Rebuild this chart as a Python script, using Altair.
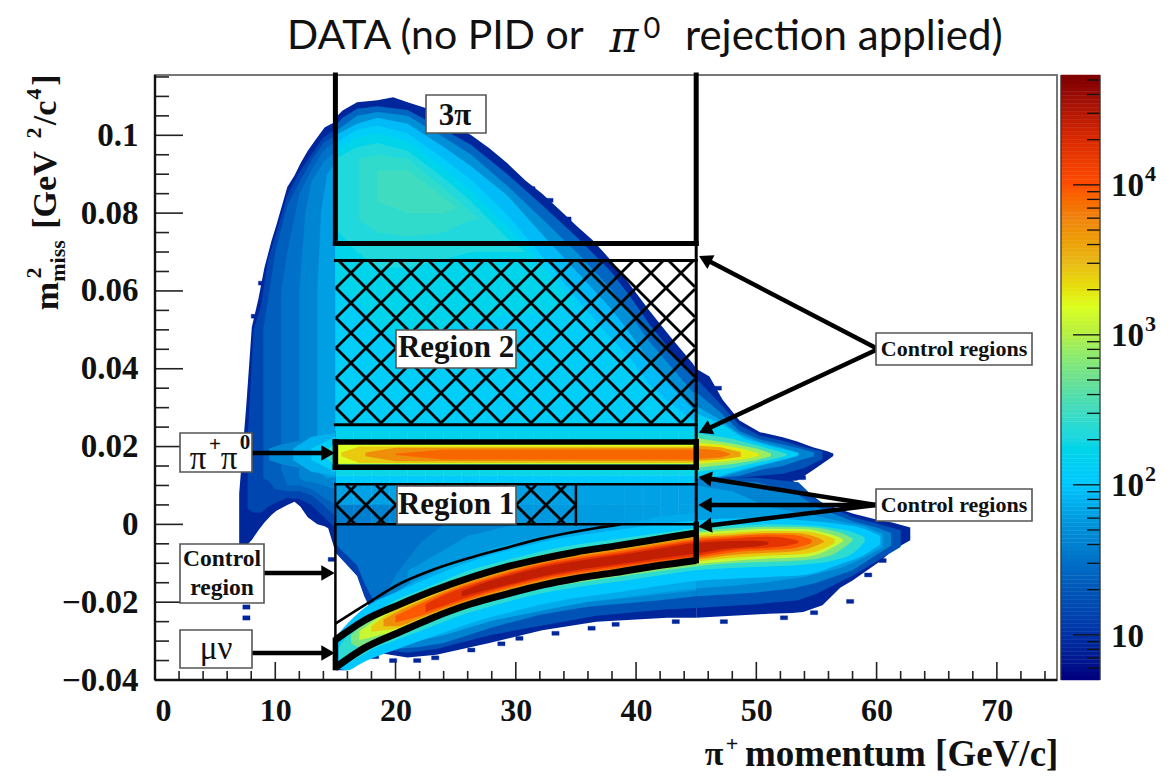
import altair as alt
import pandas as pd

W, H = 902, 605
OX, OY = 155, 75  # plot origin on the page

# ---------- 15-45 GeV horizontal slices: bin edges and counts ----------
MID_EDGES = [15 + 1.5 * i for i in range(21)]
SLICE_TOPS = [.024, .0215, .0205, .0155, .0145, .0125, .0103, .005]
SLICE_BOTTOM = 0
SLICE_FIXED = [150, 400, 1500, 400, 180, 110, 62, None]
LOW_STRIPE = [36,38,40,42,44,46,48,50,52,54,55,56,57,58,58,58,60,60,62,62]
SPECKS = [(7.3,7.9,-.0207,-.0218),(7.3,7.9,-.0235,-.0246),(21.5,22.1,-.0345,-.0355),(23,23.6,-.0338,-.0348),(26,26.6,-.0318,-.0328),
          (28.5,29.1,-.0302,-.0312),(30,30.6,-.0288,-.0298),(33,33.6,-.0275,-.0285),(36,36.6,-.0262,-.0272),(38,38.6,-.0252,-.0262),
          (43,43.6,-.0245,-.0255),(47,47.6,-.0245,-.0255),(52,52.6,-.0235,-.0245),(54.5,55.1,-.0222,-.0232),(57.5,58.1,-.0193,-.0203),
          (59,59.6,-.0125,-.0135),(60.2,60.8,-.0088,-.0098),(18,18.6,-.0335,-.0345),(19.5,20.1,-.0345,-.0355),
          (31,31.6,.0868,.0858),(32.5,33.1,.0838,.0828),(34,34.6,.079,.078),(8,8.6,.054,.053),(8.6,9.2,.0625,.0615),
          (12.5,13.1,.0055,.0045),(14.4,15,-.0085,-.0095),(46.5,47.1,.0355,.0345),(53.5,54.1,.0125,.0115),(51,51.6,.0122,.0112)]

# ---------- count levels of the smooth parts: (count, [(momentum, upper m2, lower m2), ...]) ----------
LEVELS = [
 # left wing, below 15 GeV
 (8,[(7,.008,-.005),(7.6,.031,-.0055),(8.05,.0507,-.004),(8.6,.058,-.0015),(9.1,.066,.0005),(9.7,.073,.0025),(10.1,.077,.0035),(11,.0867,.005),(11.6,.0897,.0058),(12.1,.0928,.0045),(12.7,.096,.0018),(13.5,.0995,0),(14.1,.102,-.0005),(14.4,.1025,-.001),(14.9,.1033,-.006),(15,.1045,-.0065)]),
 (14,[(7.7,.022,.004),(8.2,.05,.003),(8.8,.056,.003),(9.4,.068,.0045),(10,.074,.0055),(11,.0845,.0068),(12,.0905,.0065),(13,.095,.005),(14,.0995,.002),(15,.1015,-.001)]),
 (22,[(9,.05,.012),(9.5,.06,.011),(10,.07,.009),(11,.082,.0085),(12,.088,.0085),(13,.0935,.0075),(14,.098,.005),(15,.1,.002)]),
 (30,[(10.5,.06,.014),(11,.07,.01),(12,.085,.01),(13,.091,.009),(14,.096,.007),(15,.0985,.005)]),
 (42,[(12,.06,.012),(12.5,.08,.011),(13,.088,.011),(14,.093,.01),(15,.096,.009)]),
 (60,[(13.5,.06,.014),(13.8,.08,.013),(14.3,.09,.012),(15,.093,.012)]),
 (45,[(9.5,.0195,.0165),(10.5,.0205,.0155),(12,.0215,.0145)]),
 (75,[(11.5,.0195,.0165),(13,.0225,.0135),(15,.0235,.0125)]),
 (120,[(13,.0195,.0165),(15,.0225,.0135)]),
 (260,[(14.2,.0188,.0172),(15,.021,.015)]),
 # dome, 15-45 GeV
 (8,[(15,.1045,.024),(15.6,.1064,.024),(16.8,.1085,.024),(18.5,.109,.024),(19.8,.1098,.024),(21,.1085,.024),(22.5,.107,.024),(24,.1042,.024),(26.3,.1,.024),(27.8,.0967,.024),(29.3,.0928,.024),(30.8,.0884,.024),(32.2,.085,.024),(33.7,.0807,.024),(35.2,.0763,.024),(36.4,.073,.024),(37.9,.0679,.024),(39.4,.062,.024),(41.1,.055,.024),(42.9,.048,.024),(44.7,.0414,.024),(45,.04,.024)]),
 (25,[(15,.1025,.024),(15.6,.1045,.024),(16.8,.1068,.024),(18.5,.1075,.024),(21,.1065,.024),(24,.1015,.024),(26.3,.0975,.024),(29.3,.09,.024),(32.2,.082,.024),(35.2,.0735,.024),(37.9,.065,.024),(39.4,.059,.024),(41.1,.0515,.024),(42.9,.0445,.024),(44.7,.038,.024),(45,.0372,.024)]),
 (50,[(15,.101,.024),(16.8,.105,.024),(18.5,.106,.024),(21,.105,.024),(24,.0995,.024),(26.3,.095,.024),(29.3,.087,.024),(32.2,.0785,.024),(35.2,.0695,.024),(37.9,.0605,.024),(39.4,.0545,.024),(41.1,.047,.024),(42.9,.0405,.024),(44.7,.034,.024),(45,.0335,.024)]),
 (85,[(15,.1,.024),(16.8,.103,.024),(18.5,.1045,.024),(21,.103,.024),(24,.097,.024),(26.3,.092,.024),(29.3,.0845,.024),(32.2,.0745,.024),(35.2,.0645,.024),(37.9,.0555,.024),(39.4,.0495,.024),(41.1,.042,.024),(42.9,.0355,.024),(44.7,.0298,.024),(45,.0295,.024)]),
 (120,[(15,.098,.024),(16.8,.1015,.024),(18.5,.1025,.024),(21,.1005,.024),(24,.094,.024),(26.3,.0885,.024),(29.3,.0795,.024),(32.2,.069,.024),(35.2,.0575,.024),(37.9,.048,.024),(39.4,.043,.024),(41.1,.036,.024),(42.9,.031,.024),(44.7,.0268,.024),(45,.0265,.024)]),
 (160,[(15,.096,.06),(16.8,.0995,.058),(18.5,.1005,.05),(21,.0985,.048),(24,.0915,.05),(26.3,.0855,.052),(29.3,.0765,.054),(32.2,.0665,.054),(34,.06,.056),(35,.056,.056)]),
 (210,[(15,.094,.076),(16.8,.097,.07),(18.5,.098,.066),(21,.096,.066),(24,.089,.068),(26.3,.083,.07),(29.3,.0735,.07),(30.8,.07,.07)]),
 (260,[(17,.094,.078),(18.5,.095,.075),(21,.094,.074),(24,.0865,.075),(26,.081,.078),(27,.0785,.0785)]),
 (300,[(18.5,.091,.083),(21,.091,.08),(24,.084,.08),(25,.0815,.0815)]),
 # pi+pi0 core between 15 and 45 GeV
 (2500,[(15.5,.0185,.0175),(17,.02,.0158),(45,.02,.0158)]),
 (5000,[(17.5,.0185,.0175),(20,.0197,.0162),(45,.0197,.0162)]),
 (8000,[(20,.0182,.0178),(24,.0192,.0167),(45,.0192,.0167)]),
 # below zero, 15-45 GeV
 (12,[(15,0,-.0072),(15.6,0,-.0092),(16.8,0,-.0133),(17.4,0,-.0185),(18.4,0,-.025)]),
 (30,[(15,0,-.005),(15.6,0,-.007),(16.8,0,-.0105),(17.4,0,-.015),(18.4,0,-.021),(19.5,0,-.028),(24,0,-.029)]),
 (8,[(15,-.029,-.0375),(16,-.0265,-.0375),(17,-.0245,-.0325),(18.4,-.022,-.033),(18.5,0,-.033),(21,0,-.0342),(23.4,0,-.0335),(27.8,0,-.0305),(32.2,0,-.0272),(36.7,0,-.025),(42.6,0,-.024),(45,0,-.024)]),
 (18,[(15,-.03,-.0365),(17,-.0255,-.0315),(18.4,-.023,-.032),(18.5,0,-.032),(21,0,-.033),(23.4,0,-.032),(27.8,0,-.0285),(32.2,0,-.026),(36.7,0,-.0235),(42.6,0,-.0218),(45,0,-.0215)]),
 (40,[(15,-.03,-.0362),(17,-.0258,-.0312),(18.4,-.0235,-.0315),(20,-.013,-.032),(22,-.005,-.0315),(24,0,-.0305),(28,0,-.0265),(32,0,-.0232),(36,0,-.0212),(42,0,-.0195),(45,0,-.0185)]),
 (55,[(21,-.012,-.0145),(26,-.003,-.02),(30,0,-.0235),(36,0,-.02),(42,0,-.018),(45,0,-.017)]),
 (70,[(18,-.021,-.0235),(19,-.0195,-.0315),(21,-.0155,-.0305),(24,-.011,-.0285),(28,-.0062,-.0248),(32,-.0032,-.0222),(36,-.001,-.0198),(39,0,-.0188),(42,.002,-.0175),(45,.003,-.0165)]),
 # pi+pi0 tail above 45 GeV
 (8,[(45,.04,.01),(46.1,.038,.01),(47.2,.032,.01),(48.6,.0267,.01),(50.3,.0237,.0105),(52.2,.0224,.011),(53.4,.0213,.0113),(54.7,.0198,.0139),(55.9,.0188,.0165),(56.4,.0182,.0176)]),
 (18,[(45,.0375,.012),(47,.031,.012),(48.6,.0255,.012),(50.3,.0228,.0125),(52.2,.0215,.013),(54,.0198,.0145),(55.5,.0188,.0168)]),
 (40,[(45,.034,.0115),(47,.0288,.012),(48.6,.024,.0125),(50.3,.0218,.014),(52.2,.0205,.015),(53.6,.0195,.0165),(54.8,.0185,.0175)]),
 (70,[(45,.0305,.0118),(47,.0268,.0122),(48.6,.0232,.0135),(50.3,.0212,.015),(52,.0198,.0163),(53.5,.0185,.0175)]),
 (130,[(45,.0285,.0118),(47,.026,.0125),(49,.022,.0143),(51,.0202,.0158),(53,.0187,.0173),(53.5,.0182,.0178)]),
 (300,[(45,.0235,.0135),(48,.022,.0145),(51,.0195,.0165),(52.5,.0182,.0176)]),
 (800,[(45,.0222,.0145),(48,.0208,.0155),(50,.0195,.0165),(51.2,.0183,.0175)]),
 (1800,[(45,.021,.0155),(47,.0205,.016),(49,.0193,.0168),(50.2,.0182,.0176)]),
 (4000,[(45,.0203,.0163),(47,.0198,.0167),(48.7,.0186,.0174)]),
 (7000,[(45,.0195,.0168),(47,.019,.0172),(47.8,.0182,.0178)]),
 # base of the muon band above 45 GeV
 (8,[(45,.012,-.024),(48,.012,-.0235),(51,.012,-.023),(53,.0113,-.0228),(53.9,.0093,-.0225),(55.5,.0054,-.0208),(57,.0038,-.0162),(58,.0028,-.0144),(60.3,.001,-.0095),(61.3,.0005,-.0067),(62.8,-.0008,-.0041)]),
 (18,[(45,.012,-.0215),(50,.012,-.0205),(53.5,.0108,-.0195),(55,.0063,-.0178),(58,.0018,-.0132),(60,.0002,-.0095),(62,-.0015,-.0058)]),
 (40,[(45,.0115,-.0185),(50,.0108,-.0175),(53,.0085,-.0165),(55,.0045,-.015),(58,.0008,-.0118),(60,-.0008,-.0078),(61.2,-.0022,-.0055)]),
 (60,[(45,.01,-.0165),(48,.0085,-.0158),(51,.0045,-.0148),(54,.0028,-.0135),(57,.0008,-.0112),(59,-.0005,-.0085),(60.5,-.0025,-.006)]),
]
BAND_LEVELS = [
 (100,[(15,-.029,-.037),(16,-.0255,-.0375),(17,-.0225,-.036),(18,-.0203,-.0345),(20,-.0175,-.0322),(22,-.0148,-.03),(24,-.0122,-.0278),(26,-.0098,-.0256),(28,-.0078,-.0238),(30,-.0062,-.0222),(33,-.004,-.02),(36,-.0025,-.0185),(39,-.0012,-.0172),(42,0,-.0158),(45,.001,-.0145),(48,.0015,-.014),(51,.0015,-.0135),(54,.001,-.013),(57,0,-.0102),(59,-.0012,-.0078),(60.3,-.003,-.0052)]),
 (250,[(15.3,-.0315,-.0355),(16,-.0285,-.0355),(17,-.0255,-.034),(18,-.0233,-.0322),(20,-.0195,-.0298),(22,-.017,-.0275),(24,-.0144,-.025),(26,-.012,-.0228),(28,-.0102,-.021),(30,-.0086,-.0193),(33,-.0063,-.0172),(36,-.0048,-.0157),(39,-.0035,-.0145),(42,-.0022,-.0131),(45,-.0009,-.0118),(48,-.0002,-.0112),(51,0,-.0108),(54,-.0002,-.0103),(56.5,-.001,-.0092),(58,-.002,-.0075),(59,-.0033,-.0045)]),
 (600,[(16.3,-.0285,-.0305),(17,-.0265,-.0315),(18,-.0245,-.0302),(20,-.0205,-.0283),(22,-.018,-.026),(24,-.0154,-.0237),(26,-.0131,-.0216),(28,-.0112,-.0197),(30,-.0095,-.0181),(33,-.0073,-.016),(36,-.0058,-.0146),(39,-.0045,-.0133),(42,-.003,-.012),(45,-.0017,-.0108),(48,-.001,-.01),(51,-.0006,-.0096),(54,-.0007,-.0092),(56,-.0014,-.0082),(57.5,-.0028,-.0055),(58,-.0037,-.0042)]),
 (1200,[(17,-.0275,-.0297),(18,-.0252,-.029),(20,-.0212,-.0275),(22,-.0186,-.0253),(24,-.016,-.0231),(26,-.0137,-.021),(28,-.0118,-.0191),(30,-.0101,-.0175),(33,-.0079,-.0154),(36,-.0064,-.014),(39,-.0051,-.0127),(42,-.0036,-.0114),(45,-.0023,-.0102),(48,-.0016,-.0094),(51,-.0011,-.0088),(54,-.0012,-.0084),(55.5,-.002,-.0072),(56.8,-.0032,-.0052),(57.2,-.0038,-.0044)]),
 (2500,[(18,-.0262,-.0276),(19,-.0238,-.0272),(20,-.022,-.0268),(22,-.0193,-.0247),(24,-.0167,-.0224),(26,-.0143,-.0204),(28,-.0124,-.0185),(30,-.0107,-.0169),(33,-.0085,-.0148),(36,-.007,-.0134),(39,-.0057,-.0121),(42,-.0042,-.0108),(45,-.0028,-.0096),(48,-.0022,-.0086),(51,-.0017,-.008),(54,-.0018,-.0076),(55.5,-.0026,-.0064),(56.5,-.0037,-.0048)]),
 (5000,[(19,-.0245,-.0262),(20,-.0227,-.0262),(22,-.0199,-.0241),(24,-.0172,-.0219),(26,-.0149,-.0199),(28,-.013,-.018),(30,-.0112,-.0164),(33,-.009,-.0143),(36,-.0075,-.0129),(39,-.0062,-.0116),(42,-.0047,-.0103),(45,-.0033,-.0091),(48,-.0027,-.0079),(51,-.0022,-.0073),(53,-.0022,-.007),(54.7,-.003,-.0058),(55.6,-.0042,-.0046)]),
 (9000,[(20,-.0235,-.0252),(22,-.0205,-.0236),(24,-.0177,-.0214),(26,-.0154,-.0194),(28,-.0135,-.0175),(30,-.0117,-.0159),(33,-.0095,-.0138),(36,-.008,-.0123),(39,-.0067,-.011),(42,-.0052,-.0097),(45,-.0038,-.0086),(48,-.0031,-.0072),(51,-.0026,-.0066),(53,-.0027,-.0062),(54.6,-.0039,-.0048)]),
 (16000,[(22.5,-.0205,-.0225),(24,-.0182,-.0209),(26,-.0159,-.0188),(28,-.014,-.017),(30,-.0122,-.0154),(33,-.01,-.0133),(36,-.0085,-.0118),(39,-.0072,-.0105),(42,-.0057,-.0092),(45,-.0043,-.0081),(48,-.0036,-.0066),(51,-.0032,-.006),(52.5,-.0035,-.0055),(53.5,-.0042,-.0048)]),
 (25000,[(25.5,-.0172,-.0186),(27,-.0154,-.0173),(30,-.0127,-.015),(33,-.0105,-.0128),(36,-.009,-.0113),(39,-.0077,-.01),(42,-.0062,-.0087),(45,-.0048,-.0075),(48,-.0043,-.0061),(50,-.0042,-.0057),(51,-.0045,-.0052)]),
]

# Colour bar stops
STOPS = [5, 10, 20, 50, 100, 200, 300, 500, 1000, 1500, 3000, 6000, 10000, 20000, 54000]
COLORS = ["#00007f", "#0034a8", "#0058b8", "#0090d8", "#00c8ff", "#20d8e0", "#40dcc0", "#70e090",
          "#b8f040", "#dcff20", "#e8b818", "#f08010", "#ff4c00", "#d82800", "#7a0000"]
BAR_LEVELS = [5 * (54000 / 5) ** (i / 150) for i in range(151)]

# Curves of the selection
CURVE_X = [15, 17.4, 20.4, 23, 26.3, 29, 32.2, 35, 38.2, 41, 45]
CURVE_TOP = [-.0297, -.0247, -.0205, -.0172, -.0136, -.0111, -.0088, -.0071, -.0056, -.0042, -.0022]
CURVE_BOT = [-.0368, -.0318, -.0276, -.0241, -.0204, -.0181, -.0156, -.0139, -.0124, -.011, -.0093]
THIN_X = [15, 17.4, 20.4, 23, 26.3, 29, 32.2, 36.6, 38.7]
THIN_Y = [-.0255, -.0208, -.0152, -.0118, -.0085, -.0062, -.0036, -.001, 0]

rows = []
for i in range(20):
    counts = [LOW_STRIPE[i] if v is None else v for v in SLICE_FIXED]
    bottoms = SLICE_TOPS[1:] + [SLICE_BOTTOM]
    for t, b, c in zip(SLICE_TOPS, bottoms, counts):
        rows.append(dict(x0=MID_EDGES[i], x1=MID_EDGES[i + 1], y0=b, y1=t, count=c))
for a, b, c, d in SPECKS:
    rows.append(dict(x0=a, x1=b, y0=d, y1=c, count=8))
heat_df = pd.DataFrame(rows)

xs = alt.Scale(domain=[0, 75], nice=False, zero=False)
ys = alt.Scale(domain=[-.04, .1155], nice=False, zero=False)
cs = alt.Scale(type="log", domain=STOPS, range=COLORS)
SERIF = "Liberation Serif"

def PX(c="x"): return alt.X(f"{c}:Q", scale=None, axis=None)
def PY(c="y"): return alt.Y(f"{c}:Q", scale=None, axis=None)
def DX(c): return alt.X(f"{c}:Q", scale=xs, axis=None)
def DY(c): return alt.Y(f"{c}:Q", scale=ys, axis=None)

heat = alt.Chart(heat_df).mark_rect(strokeWidth=0.4).encode(
    x=alt.X("x0:Q", scale=xs, axis=alt.Axis(values=list(range(0, 71, 10)), ticks=False, domain=False, grid=False,
            title=None, labelFont=SERIF, labelFontWeight="bold", labelFontSize=32, labelPadding=15, labelColor="#111")),
    x2="x1:Q",
    y=alt.Y("y0:Q", scale=ys, axis=alt.Axis(values=[-.04, -.02, 0, .02, .04, .06, .08, .1], ticks=False, domain=False, grid=False,
            title=None, labelFont=SERIF, labelFontWeight="bold", labelFontSize=33, labelPadding=17, labelColor="#111",
            labelExpr="datum.value==0?'0':format(datum.value,'.2~f')")),
    y2="y1:Q",
    color=alt.Color("count:Q", scale=cs, legend=None),
    stroke=alt.Stroke("count:Q", scale=cs, legend=None),
)

def level_layer(count, pts, interp):
    df = pd.DataFrame(pts, columns=["x", "u", "l"]).assign(c=count)
    return alt.Chart(df).mark_area(interpolate=interp).encode(
        x=DX("x"), y=DY("u"), y2="l:Q", color=alt.Color("c:Q", scale=cs, legend=None))
level_layers = [level_layer(c, p, "linear") for c, p in sorted(LEVELS, key=lambda e: e[0])]
band_layers = [level_layer(c, p, "monotone") for c, p in BAND_LEVELS]

# hatching (45 degree lines in page pixels, clipped to the region)
def hatch(x0, x1, y0, y1, d, phase):
    out = []
    k = phase - 3000
    while k < 3000:
        for sgn in (1, -1):
            pts = []
            for xx in (x0, x1):
                yy = sgn * (xx - x0) + y0 + k
                if y0 <= yy <= y1: pts.append((xx, yy))
            for yy in (y0, y1):
                xx = x0 + sgn * (yy - y0 - k)
                if x0 <= xx <= x1: pts.append((xx, yy))
            if len(pts) >= 2:
                out.append(dict(x=pts[0][0] - OX, x2=pts[-1][0] - OX, y=pts[0][1] - OY, y2=pts[-1][1] - OY))
        k += d
    return out
hatch_df = pd.DataFrame(hatch(336, 695, 260, 424, 30, 28) + hatch(336, 576, 485, 524, 30, 20))
hatch_l = alt.Chart(hatch_df).mark_rule(color="#000", strokeWidth=2.8).encode(x=PX("x"), x2="x2:Q", y=PY("y"), y2="y2:Q")

# selection lines
LINES = [
    (15, 15, .1155, .0722, 5), (45, 45, .1155, .0722, 5), (15, 45, .0722, .0722, 5),
    (15, 45, .0678, .0678, 3), (15, 45, .0256, .0256, 3), (45, 45, .0722, 0, 3),
    (15, 45, .0212, .0212, 5.5), (15, 45, .0147, .0147, 5.5), (15, 15, .0212, .0147, 5.5), (45, 45, .0212, .0147, 5.5),
    (15, 45, .0103, .0103, 2.5), (15, 45, 0, 0, 2.5), (15, 15, .0103, 0, 2), (35, 35, .0103, 0, 2.5),
    (15, 15, 0, -.0298, 2.5), (15, 15, -.0298, -.0368, 5.5), (45, 45, 0, -.0093, 5.5),
]
lines_df = pd.DataFrame(LINES, columns=["a", "b", "c", "d", "w"])
lines_l = alt.Chart(lines_df).mark_rule(color="#000", strokeCap="square").encode(
    x=DX("a"), x2="b:Q", y=DY("c"), y2="d:Q", strokeWidth=alt.StrokeWidth("w:Q", scale=None, legend=None))

def curve(xv, yv, w):
    return alt.Chart(pd.DataFrame({"x": xv, "y": yv})).mark_line(color="#000", strokeWidth=w, interpolate="monotone").encode(x=DX("x"), y=DY("y"))
curve_t = curve(CURVE_X, CURVE_TOP, 7)
curve_b = curve(CURVE_X, CURVE_BOT, 7)
curve_th = curve(THIN_X, THIN_Y, 2.6)

# ticks
def xticks(vals, ln):
    return alt.Chart(pd.DataFrame({"x": vals})).mark_rule(color="#222", strokeWidth=1.6).encode(x=DX("x"), y=alt.value(H), y2=alt.value(H - ln))
def yticks(vals, ln):
    return alt.Chart(pd.DataFrame({"y": vals})).mark_rule(color="#222", strokeWidth=1.6).encode(y=DY("y"), x=alt.value(0), x2=alt.value(ln))
t1 = xticks(list(range(0, 75, 10)), 18)
t2 = xticks([v for v in range(0, 75, 2) if v % 10], 9)
t3 = yticks([-.04, -.02, 0, .02, .04, .06, .08, .1], 28)
t4 = yticks([v / 1000 for v in range(-35, 116, 5) if v % 20], 14)
frame_b = alt.Chart(pd.DataFrame({"a": [0, 0], "b": [75, 0], "c": [-.04, -.04], "d": [-.04, .1155]})).mark_rule(color="#111", strokeWidth=2.4).encode(x=DX("a"), x2="b:Q", y=DY("c"), y2="d:Q")

# arrows (page pixels)
ARROWS = [
    (252, 453, 328, 453, 0), (264, 573, 328, 573, 0), (252, 653, 328, 653, 0),
    (876, 348, 705, 259, 207.5), (876, 350, 705, 430, 155),
    (876, 505, 705, 478, 189), (876, 505, 705, 505, 180), (876, 505, 705, 526, 173),
]
arr_df = pd.DataFrame([dict(x=a - OX, y=b - OY, x2=c - OX, y2=d - OY, ang=e) for a, b, c, d, e in ARROWS])
arrow_l = alt.Chart(arr_df).mark_rule(color="#000", strokeWidth=4.5).encode(x=PX("x"), x2="x2:Q", y=PY("y"), y2="y2:Q")
head_l = alt.Chart(arr_df).mark_point(shape="triangle-right", filled=True, color="#000", size=240, opacity=1).encode(
    x=PX("x2"), y=PY("y2"), angle=alt.Angle("ang:Q", scale=None))

# label boxes
BOXES = [(426, 486, 95, 133), (396, 516, 330, 368), (397, 516, 486, 524), (180, 252, 433, 472), (180, 264, 544, 603),
         (180, 252, 630, 668), (876, 1032, 333, 365), (876, 1032, 489, 521)]
box_df = pd.DataFrame([dict(x=a - OX, x2=b - OX, y=c - OY, y2=d - OY) for a, b, c, d in BOXES])
box_l = alt.Chart(box_df).mark_rect(fill="#fff", stroke="#555", strokeWidth=1.6).encode(x=PX("x"), x2="x2:Q", y=PY("y"), y2="y2:Q")

def txt(items, size, weight="normal", font=SERIF, angle=0, align="center", style="normal", color="#111"):
    df = pd.DataFrame([dict(t=t, x=x - OX, y=y - OY) for t, x, y in items])
    return alt.Chart(df).mark_text(font=font, fontSize=size, fontWeight=weight, angle=angle, align=align, baseline="middle", fontStyle=style, color=color).encode(
        x=PX("x"), y=PY("y"), text="t:N")

labels = [
    txt([("3π", 455, 116)], 31, "bold"),
    txt([("Region 2", 456, 348), ("Region 1", 456, 505)], 31, "bold"),
    txt([("Control", 222, 559), ("region", 222, 588)], 23.5, "bold"),
    txt([("Control regions", 954, 349), ("Control regions", 954, 505)], 22, "bold"),
    txt([("π", 198, 459), ("π", 229, 459), ("μν", 216, 649)], 33),
    txt([("+", 215, 445), ("0", 245, 443)], 21, "bold"),
    # x axis title
    txt([("π", 714, 755)], 34, "bold"),
    txt([("+", 732, 744)], 22, "bold"),
    txt([("momentum [GeV/c]", 745, 755)], 37, "bold", align="left"),
    # y axis title
    txt([("m", 48, 296)], 34, "bold", angle=270),
    txt([("2", 34, 273), ("2", 34, 133), ("4", 34, 94)], 22, "bold", angle=270),
    txt([("miss", 58, 261)], 22, "bold", angle=270),
    txt([("[GeV", 46, 190)], 34, "bold", angle=270),
    txt([("/c", 46, 113)], 34, "bold", angle=270),
    txt([("]", 46, 80)], 34, "bold", angle=270),
    # title
    txt([("DATA (no PID or", 287, 37)], 41, font="Lato", align="left"),
    txt([("π", 624, 39)], 44, font="DejaVu Serif", style="italic"),
    txt([("0", 652, 29)], 29, font="Lato"),
    txt([("rejection applied)", 685, 37)], 42, font="Lato", align="left"),
    # colour bar labels
    txt([("10", 1111, 186), ("10", 1111, 336), ("10", 1111, 486), ("10", 1111, 637)], 33, "bold", align="left"),
    txt([("4", 1145, 174), ("3", 1145, 324), ("2", 1145, 474)], 22, "bold", align="left"),
]

# colour bar
cb_rows = [dict(a=1061 - OX, b=1100 - OX, lo=BAR_LEVELS[i], hi=BAR_LEVELS[i + 1], c=BAR_LEVELS[i]) for i in range(150)]
bar_y = alt.Scale(type="log", domain=[5, 54000], nice=False)
cb = alt.Chart(pd.DataFrame(cb_rows)).mark_rect(strokeWidth=0.5).encode(
    x=PX("a"), x2="b:Q", y=alt.Y("lo:Q", scale=bar_y, axis=None), y2="hi:Q",
    color=alt.Color("c:Q", scale=cs, legend=None), stroke=alt.Stroke("c:Q", scale=cs, legend=None))
def cbt(vals, a):
    d = pd.DataFrame({"v": vals, "a": a - OX, "b": 1100 - OX})
    return alt.Chart(d).mark_rule(color="#111", strokeWidth=1.3).encode(x=PX("a"), x2="b:Q", y=alt.Y("v:Q", scale=bar_y, axis=None))
cb_major = cbt([10, 100, 1000, 10000], 1073)
cb_minor = cbt([m * 10 ** k for k in range(0, 5) for m in range(2, 10) if 6 <= m * 10 ** k <= 54000], 1087)
cb_frame = alt.Chart(pd.DataFrame({"a": [1100 - OX, 1061 - OX], "y": [0, 0], "y2": [H, H]})).mark_rule(color="#333", strokeWidth=1.2).encode(x=PX("a"), y=PY("y"), y2="y2:Q")

chart = alt.layer(
    heat, *level_layers, *band_layers, hatch_l, lines_l, curve_th, curve_t, curve_b, t1, t2, t3, t4, frame_b, arrow_l, head_l, box_l, *labels,
    cb, cb_major, cb_minor, cb_frame,
).resolve_scale(x="independent", y="independent", color="shared", stroke="shared").properties(
    width=W, height=H, autosize=alt.AutoSizeParams(type="none"),
    padding={"left": OX - 8, "top": OY - 8, "right": 100, "bottom": 96},
).configure_view(stroke="#777", strokeWidth=2)

chart.save("out.html", embed_options={"renderer": "svg", "actions": False})
